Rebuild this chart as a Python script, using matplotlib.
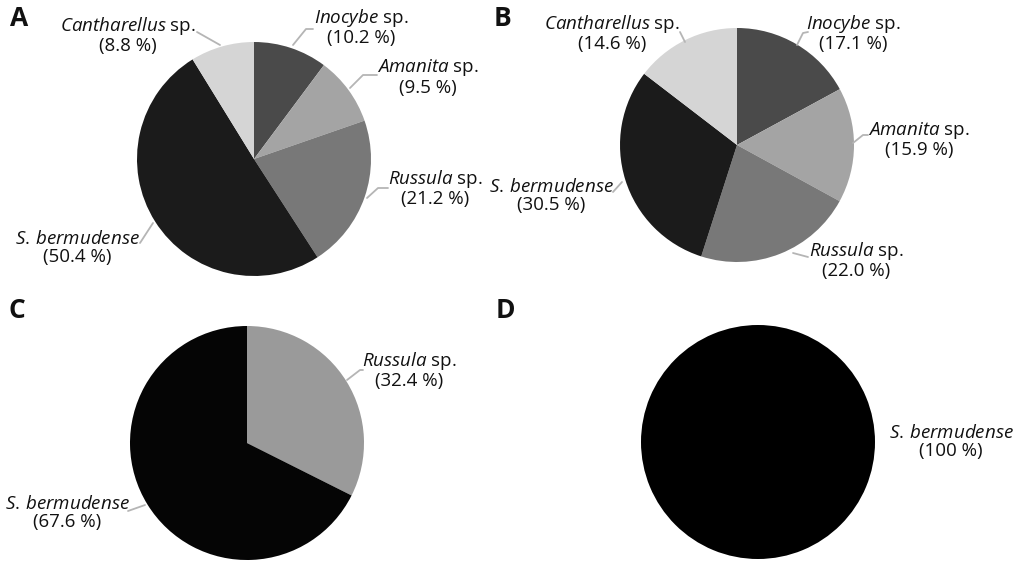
import matplotlib
matplotlib.use("Agg")
import matplotlib.pyplot as plt

plt.rcParams['font.family'] = ['Open Sans', 'DejaVu Sans']
plt.rcParams['mathtext.fontset'] = 'custom'
plt.rcParams['mathtext.it'] = 'Open Sans:italic'
plt.rcParams['mathtext.rm'] = 'Open Sans'

# ---------------- data ----------------
panel_letters = ["A", "B", "C", "D"]

a_taxa = ["Inocybe", "Amanita", "Russula", "S. bermudense", "Cantharellus"]
a_values = [10.2, 9.5, 21.2, 50.4, 8.8]

b_taxa = ["Inocybe", "Amanita", "Russula", "S. bermudense", "Cantharellus"]
b_values = [17.1, 15.9, 22.0, 30.5, 14.6]

c_taxa = ["Russula", "S. bermudense"]
c_values = [32.4, 67.6]

d_taxa = ["S. bermudense"]
d_values = [100.0]

# ---------------- styles / layout ----------------
W, H = 1020, 561
colors_full = {"Inocybe": "#4a4a4a", "Amanita": "#a4a4a4", "Russula": "#787878",
               "S. bermudense": "#1b1b1b", "Cantharellus": "#d5d5d5"}
colors_c = {"Russula": "#9a9a9a", "S. bermudense": "#050505"}
colors_d = {"S. bermudense": "#000000"}

# pie centre (px from left, px from top) and radius in px
pie_geom = [(254, 159, 117), (737, 145, 117), (247, 443, 117), (758, 442, 117)]
letter_pos = [(10, 19), (494, 19), (9, 311), (496, 311)]

# label block centres (px) and leader polylines (px)
label_pos = [
    [(361, 27), (428, 77), (435, 188), (77, 248), (128, 35)],
    [(853, 33), (919, 139), (856, 260), (551, 196), (612, 33)],
    [(409, 370), (67, 513)],
    [(951, 442)],
]
leaders = [
    [[(293, 45), (306, 29), (313, 29)],
     [(350, 88), (363, 75), (377, 75)],
     [(367, 198), (378, 188), (388, 188)],
     [(140, 243), (153, 223)],
     [(197, 32), (220, 45)]],
    [[(797, 45), (803, 33), (808, 32)],
     [(853, 143), (863, 135), (868, 135)],
     [(793, 253), (808, 257)],
     [(613, 192), (622, 182)],
     [(680, 32), (685, 42)]],
    [[(347, 380), (360, 370), (363, 370)],
     [(128, 511), (145, 505)]],
    [[]],
]

panels = [(a_taxa, a_values, colors_full), (b_taxa, b_values, colors_full),
          (c_taxa, c_values, colors_c), (d_taxa, d_values, colors_d)]


def make_label(taxon, value):
    if taxon == "S. bermudense":
        first = r"$\mathit{S.\,bermudense}$"
    else:
        first = r"$\mathit{" + taxon + r"}$ sp."
    vs = "100" if value == 100 else f"{value:.1f}"
    return first + "\n(" + vs + " %)"


fig = plt.figure(figsize=(W / 100, H / 100), dpi=100)
fig.patch.set_facecolor("white")

for i, (taxa, values, cmap) in enumerate(panels):
    cx, cy, r = pie_geom[i]
    ax = fig.add_axes([0, 0, 1, 1])
    ax.patch.set_alpha(0)
    ax.pie(values, colors=[cmap[t] for t in taxa], startangle=90,
           counterclock=False, radius=1.0, center=(0, 0),
           wedgeprops=dict(linewidth=0))
    ax.set_aspect('auto')
    ax.set_xlim(-cx / r, (W - cx) / r)
    ax.set_ylim(-(H - cy) / r, cy / r)
    ax.axis('off')

    def to_d(p):
        return ((p[0] - cx) / r, (cy - p[1]) / r)

    for j, (t, v) in enumerate(zip(taxa, values)):
        lx, ly = to_d(label_pos[i][j])
        ax.text(lx, ly, make_label(t, v), ha='center', va='center',
                multialignment='center', fontsize=13.5, color="#111111",
                linespacing=1.0)
        pts = leaders[i][j]
        if pts:
            xs, ys = zip(*[to_d(p) for p in pts])
            ax.plot(xs, ys, color="#b5b5b5", lw=1.3, solid_capstyle='round')

    fig.text(letter_pos[i][0] / W, 1 - letter_pos[i][1] / H, panel_letters[i],
             fontsize=19, fontweight='bold', ha='left', va='center', color="#111111")

fig.savefig("out.png", dpi=100, facecolor="white")
